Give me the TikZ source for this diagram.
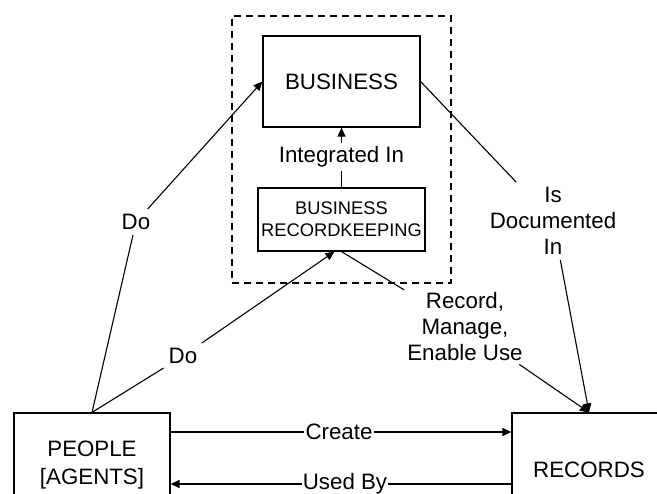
\documentclass[tikz,border=0pt]{standalone}
\usepackage{fontspec}
\setmainfont{Liberation Sans}
\usetikzlibrary{arrows.meta, positioning}

\begin{document}
\begin{tikzpicture}[x=1pt, y=-1pt,
    box/.style={draw, rectangle, line width=1.2pt, inner sep=0pt, align=center, font=\fontsize{22.3}{27}\selectfont},
    lbl/.style={inner sep=3pt, align=center, font=\fontsize{22.3}{26}\selectfont},
    link/.style={line width=1.1pt},
    arr/.style={link, -{Triangle[length=9pt, width=8pt]}}]
    \useasboundingbox (0,0) rectangle (657,494);
    \clip (0,0) rectangle (657,494);

    % Nodes
    \node[draw, dashed, dash pattern=on 7pt off 5pt, line width=1.2pt, minimum width=219pt, minimum height=267pt] (frame) at (341.5,149.5) {};
    \node[box, minimum width=157pt, minimum height=91pt] (business) at (341.5,81.5) {BUSINESS};
    \node[box, minimum width=167pt, minimum height=63pt, font=\fontsize{18.3}{22}\selectfont] (rk) at (341.5,219.5) {BUSINESS\\RECORDKEEPING};
    \node[box, minimum width=156pt, minimum height=104pt, font=\fontsize{22.3}{28}\selectfont] (people) at (92,465) {PEOPLE\\{[AGENTS]}};
    \node[box, minimum width=154pt, minimum height=114pt] (records) at (589,470) {RECORDS};

    % Labels
    \node[lbl] (integ) at (341.5,157) {Integrated In};
    \node[lbl, inner sep=5pt] (do1) at (136,222) {Do};
    \node[lbl, inner sep=5pt] (do2) at (183,356) {Do};
    \node[lbl, inner sep=5pt] (isdoc) at (553,221) {Is\\Documented\\In};
    \node[lbl] (rec) at (465,327) {Record,\\Manage,\\Enable Use};
    \node[lbl, inner sep=1pt] (create) at (339,432) {Create};
    \node[lbl, inner sep=1pt] (usedby) at (345,484) {Used By};

    % Edges
    \draw[arr] (rk.north) -- (integ) -- (business.south);
    \draw[arr] (people.north) -- (do1) -- (business.west);
    \draw[arr] (people.north) -- (do2) -- ([xshift=-7pt]rk.south);
    \draw[arr] (rk.south) -- (rec) -- (records.north);
    \draw[arr] (business.east) -- (isdoc) -- (records.north);
    \draw[arr] (people.east |- create) -- (create) -- (records.west |- create);
    \draw[arr] (records.west |- usedby) -- (usedby) -- (people.east |- usedby);
\end{tikzpicture}
\end{document}
